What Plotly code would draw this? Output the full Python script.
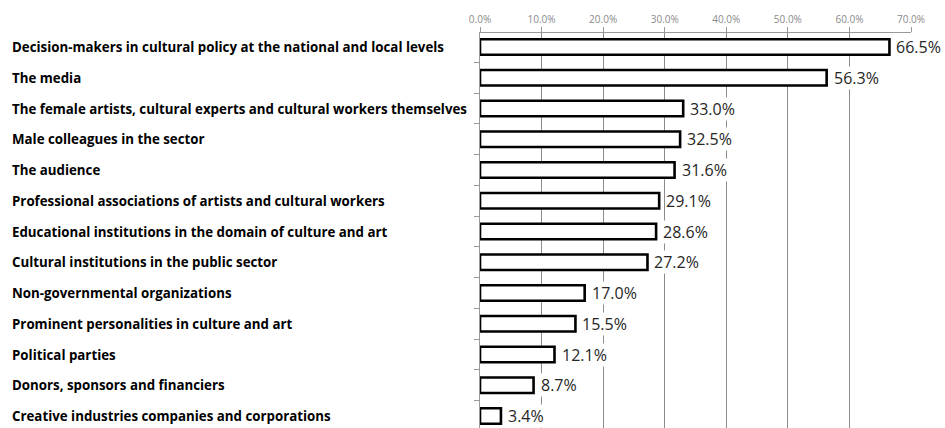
import plotly.graph_objects as go

categories = [
    "Decision-makers in cultural policy at the national and local levels",
    "The media",
    "The female artists, cultural experts and cultural workers themselves",
    "Male colleagues in the sector",
    "The audience",
    "Professional associations of artists and cultural workers",
    "Educational institutions in the domain of culture and art",
    "Cultural institutions in the public sector",
    "Non-governmental organizations",
    "Prominent personalities in culture and art",
    "Political parties",
    "Donors, sponsors and financiers",
    "Creative industries companies and corporations",
]
values = [66.5, 56.3, 33.0, 32.5, 31.6, 29.1, 28.6, 27.2, 17.0, 15.5, 12.1, 8.7, 3.4]
tick_values = [0, 10, 20, 30, 40, 50, 60, 70]
tick_labels = ["0.0%", "10.0%", "20.0%", "30.0%", "40.0%", "50.0%", "60.0%", "70.0%"]

W, H = 945, 428
LEFT, RIGHT, TOP = 480, 34, 33

fig = go.Figure()
fig.add_trace(go.Bar(
    x=values,
    y=categories,
    orientation="h",
    width=0.5,
    marker=dict(color="white", line=dict(color="black", width=2.6)),
    hoverinfo="x+y",
))

# value labels with a white box so the gridlines pass behind them
for c, v in zip(categories, values):
    fig.add_annotation(
        x=v, y=c, xref="x", yref="y",
        text=f"{v:.1f}%", showarrow=False,
        xanchor="left", yanchor="middle", xshift=6,
        bgcolor="white", borderpad=0,
        font=dict(family="Open Sans", size=16, color="#262626"),
    )

# left-aligned category names
for c in categories:
    fig.add_annotation(
        x=0, y=c, xref="paper", yref="y",
        text=f"<b>{c}</b>", showarrow=False,
        xanchor="left", yanchor="middle",
        xshift=-(LEFT - 10),
        font=dict(family="Open Sans", size=13.3, color="black"),
    )

plot_h = H - TOP
band = 30.75
top_idx = -14 / band
bot_idx = top_idx + plot_h / band

fig.update_layout(
    width=W, height=H,
    margin=dict(l=LEFT, r=RIGHT, t=TOP, b=0, pad=0),
    plot_bgcolor="white", paper_bgcolor="white",
    showlegend=False,
    xaxis=dict(
        side="top", range=[0, 70],
        tickvals=tick_values, ticktext=tick_labels,
        tickfont=dict(family="Open Sans", size=10, color="#8a8a8a"),
        showgrid=True, gridcolor="#8c8c8c", gridwidth=1,
        showline=True, linecolor="#9a9a9a", linewidth=1,
        ticks="outside", ticklen=5, tickcolor="#9a9a9a",
        zeroline=False, fixedrange=True,
    ),
    yaxis=dict(
        categoryorder="array", categoryarray=categories,
        range=[bot_idx, top_idx],
        showticklabels=False,
        showline=True, linecolor="#9a9a9a", linewidth=1,
        ticks="outside", ticklen=5, tickcolor="#9a9a9a", tickson="boundaries",
        showgrid=False, zeroline=False, fixedrange=True,
    ),
)

fig.write_html("out.html")
